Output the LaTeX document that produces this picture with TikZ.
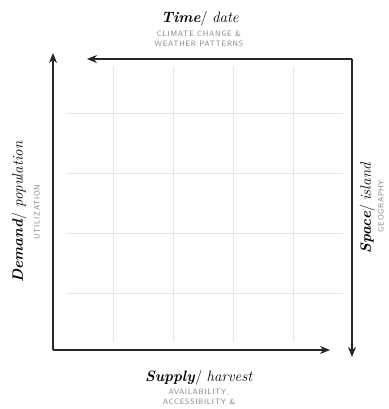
\documentclass[tikz,border=0pt]{standalone}
\usepackage{fontspec}
\usetikzlibrary{arrows.meta}

\newfontfamily\notefont{lmsans10-regular.otf}[LetterSpace=9]

\definecolor{gridgray}{gray}{0.9}
\definecolor{notegray}{gray}{0.5}

\tikzset{
  axis/.style={line width=1.1pt, draw=black!85, -{Stealth[length=10pt,width=8pt]}},
  head/.style={font=\fontsize{15}{16}\selectfont, inner sep=0pt},
  note/.style={font=\notefont\fontsize{7.8}{10.5}\selectfont, text=notegray, align=center, inner sep=0pt}
}

\begin{document}
\begin{tikzpicture}[x=1pt,y=-1pt]
  \useasboundingbox (0,0) rectangle (388,409);
  % light grid
  \foreach \g in {113,173,233,293} {
    \draw[gridgray, line width=0.5pt] (\g,66) -- (\g,342);
    \draw[gridgray, line width=0.5pt] (67,\g) -- (343,\g);
  }
  % corners of the frame
  \coordinate (sw) at (53,350);
  \coordinate (ne) at (352,59);
  \coordinate (ntip) at (53,53);
  \coordinate (etip) at (330,350);
  \coordinate (wtip) at (87,59);
  \coordinate (stip) at (352,357);
  \draw[axis] (sw) -- (ntip);
  \draw[axis] (sw) -- (etip);
  \draw[axis] (ne) -- (wtip);
  \draw[axis] (ne) -- (stip);
  % labels
  \node[head] (time) at (200,19) {\textbf{\textit{Time}}/ \textit{date}};
  \node[note] (timenote) at (199,39) {CLIMATE CHANGE \&\\WEATHER PATTERNS};
  \node[head, rotate=90] (demand) at (19,212) {\textbf{\textit{Demand}}/ \textit{population}};
  \node[note, rotate=90] (demandnote) at (37,212) {UTILIZATION};
  \node[head, rotate=90] (space) at (367,208) {\textbf{\textit{Space}}/ \textit{island}};
  \node[note, rotate=90] (spacenote) at (381,206) {GEOGRAPHY};
  \node[head] (supply) at (199,378) {\textbf{\textit{Supply}}/ \textit{harvest}};
  \node[note] (supplynote) at (199,397) {AVAILABILITY,\\ACCESSIBILITY \&};
\end{tikzpicture}
\end{document}
